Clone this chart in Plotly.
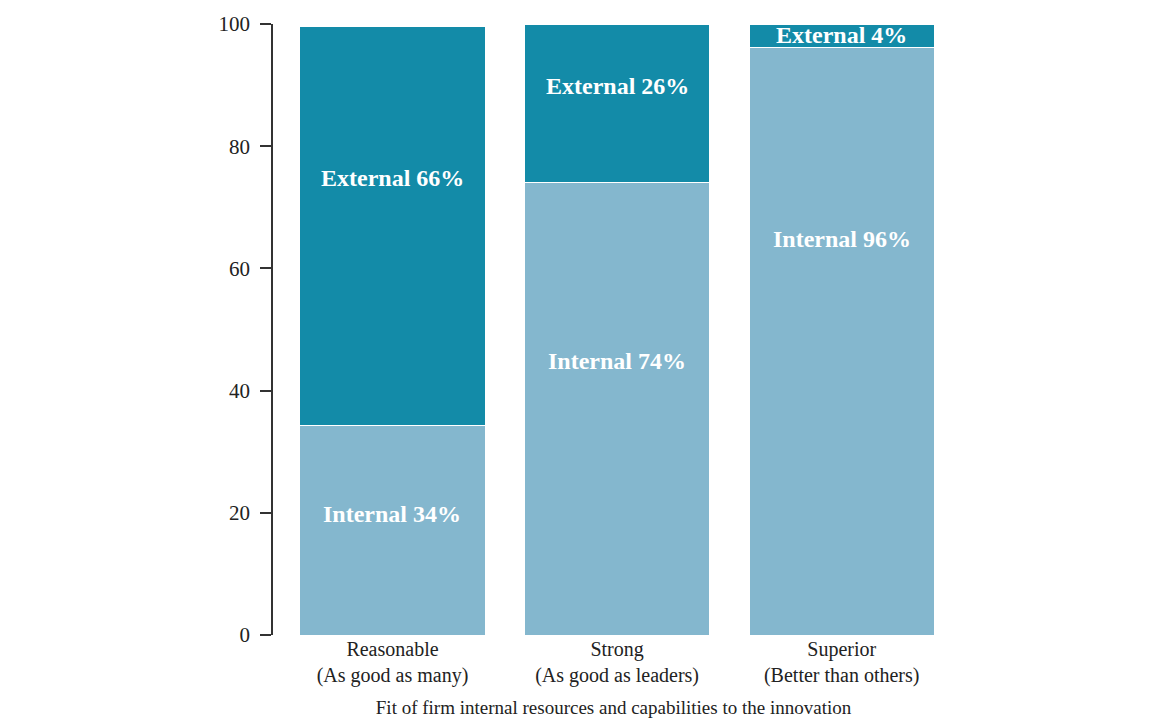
import plotly.graph_objects as go

categories = ["Reasonable<br>(As good as many)", "Strong<br>(As good as leaders)", "Superior<br>(Better than others)"]
internal = [34.3, 74.0, 96.1]
external = [65.3, 26.0, 3.9]
internal_labels = ["Internal 34%", "Internal 74%", "Internal 96%"]
external_labels = ["External 66%", "External 26%", "External 4%"]
internal_label_y = [19.8, 44.8, 64.8]
external_label_y = [74.8, 89.9, 98.2]
y_ticks = [0, 20, 40, 60, 80, 100]
x_title = "Fit of firm internal resources and capabilities to the innovation"

SERIF = "Liberation Serif, Times New Roman, serif"
C_INT = "#84B7CE"
C_EXT = "#138BA8"

fig = go.Figure()
fig.add_bar(x=categories, y=internal, name="Internal", marker=dict(color=C_INT, line=dict(color="white", width=1)))
fig.add_bar(x=categories, y=external, name="External", marker=dict(color=C_EXT, line=dict(color="white", width=1)))

for c, t, y in zip(categories, internal_labels, internal_label_y):
    fig.add_annotation(x=c, y=y, text="<b>" + t + "</b>", showarrow=False,
                       font=dict(family=SERIF, size=24, color="white"))
for c, t, y in zip(categories, external_labels, external_label_y):
    fig.add_annotation(x=c, y=y, text="<b>" + t + "</b>", showarrow=False,
                       font=dict(family=SERIF, size=24, color="white"))

fig.update_layout(
    width=1165, height=718,
    barmode="stack", bargap=0.176,
    showlegend=False,
    plot_bgcolor="white", paper_bgcolor="white",
    margin=dict(l=273, r=211, t=24, b=83),
    font=dict(family=SERIF, color="#222"),
)
fig.update_xaxes(
    range=[-0.532, 2.5], showline=False, ticks="", showgrid=False, automargin=False,
    tickfont=dict(family=SERIF, size=20, color="#222"),
    title=dict(text=x_title, font=dict(family=SERIF, size=19, color="#222"), standoff=15),
)
fig.update_yaxes(
    range=[0, 100], tickvals=y_ticks, showgrid=False, zeroline=False, automargin=False,
    showline=True, linecolor="#333", linewidth=1.5,
    ticks="outside", ticklen=11, tickcolor="#333", tickwidth=1.5,
    tickfont=dict(family=SERIF, size=21, color="#222"), ticklabelstandoff=6,
)

fig.write_html("out.html")
